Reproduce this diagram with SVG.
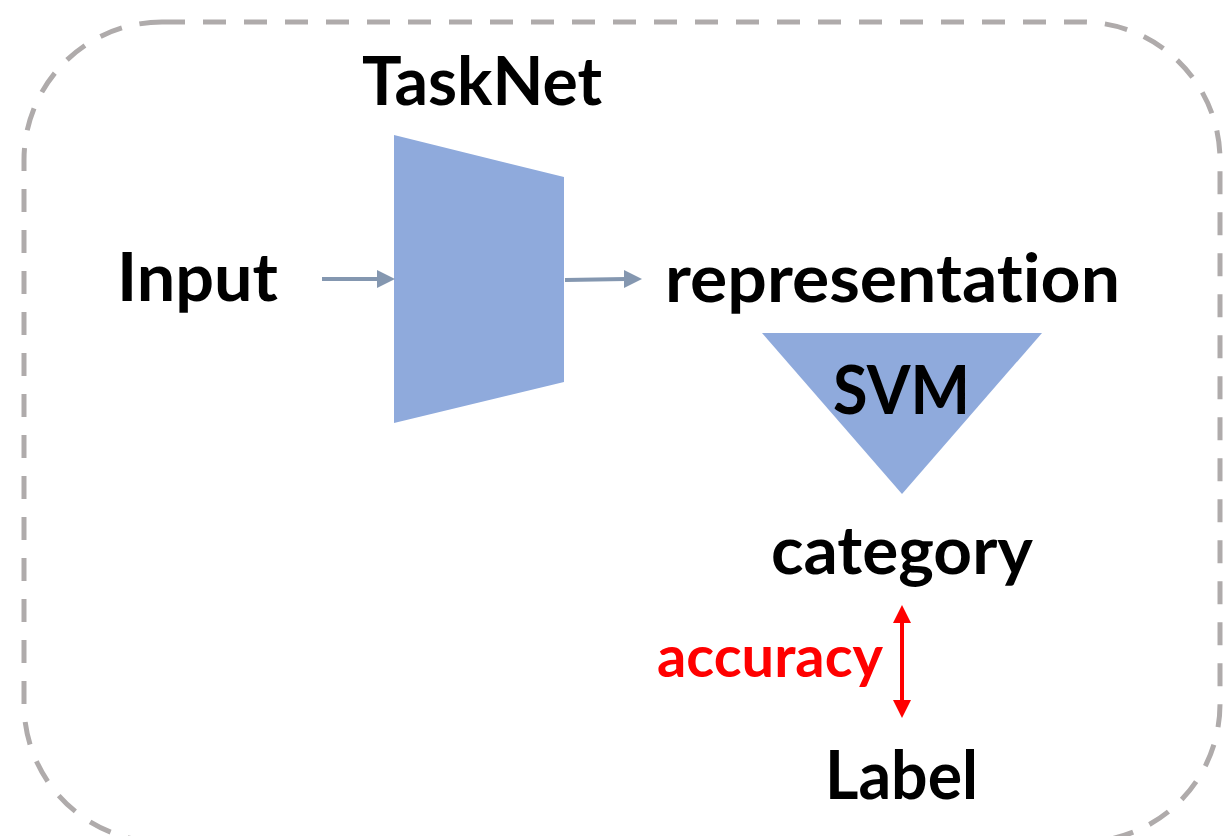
<svg xmlns="http://www.w3.org/2000/svg" width="1226" height="836" viewBox="0 0 1226 836">
<style>
.t{font-family:Lato,"Open Sans","Liberation Sans",sans-serif;font-weight:700;font-size:67px;fill:#000;font-variant-ligatures:none;font-feature-settings:"liga" 0,"clig" 0}
.r{fill:#FF0000;font-size:57px}
.shape{fill:#8FAADC}
.conn{stroke:#8497B0;stroke-width:4;fill:none}
.head{fill:#8497B0}
.red{stroke:#FF0000;stroke-width:4;fill:none}
.rhead{fill:#FF0000}
</style>
<rect id="frame" x="24" y="22" width="1196" height="820" rx="138" ry="138" fill="none" stroke="#AFABAB" stroke-width="5" stroke-dasharray="23 18"/>
<g id="taskNet">
<polygon class="shape" points="394,135 564,177 564,382 394,423"/>
<text class="t" x="362" y="105" textLength="240" lengthAdjust="spacingAndGlyphs">TaskNet</text>
</g>
<g id="input">
<text class="t" x="117" y="301" textLength="161" lengthAdjust="spacingAndGlyphs">Input</text>
</g>
<g id="representation">
<text class="t" x="665" y="302" textLength="455" lengthAdjust="spacingAndGlyphs">representation</text>
</g>
<g id="svm">
<polygon class="shape" points="762,333 1042,333 902,494"/>
<text class="t" x="833" y="414" textLength="137" lengthAdjust="spacingAndGlyphs">SVM</text>
</g>
<g id="category">
<text class="t" x="771" y="574" textLength="262" lengthAdjust="spacingAndGlyphs">category</text>
</g>
<g id="label">
<text class="t" x="825" y="799" textLength="153" lengthAdjust="spacingAndGlyphs">Label</text>
</g>
<g id="connectors">
<line class="conn" x1="322" y1="279" x2="379" y2="279"/>
<polygon class="head" points="377,270 395,279 377,288"/>
<line class="conn" x1="565" y1="280" x2="626" y2="279"/>
<polygon class="head" points="624,270 642,279 624,288"/>
<line class="red" x1="902" y1="621" x2="902" y2="702"/>
<polygon class="rhead" points="893,623 902,605 911,623"/>
<polygon class="rhead" points="893,700 902,718 911,700"/>
<text class="t r" x="657" y="677" textLength="226" lengthAdjust="spacingAndGlyphs">accuracy</text>
</g>
</svg>
